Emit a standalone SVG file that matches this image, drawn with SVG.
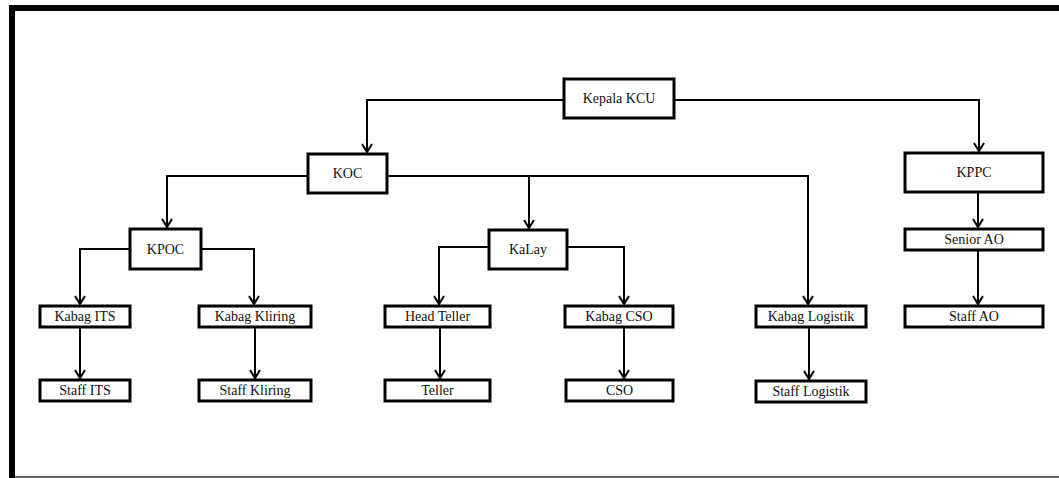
<svg xmlns="http://www.w3.org/2000/svg" width="1059" height="478" viewBox="0 0 1059 478">
<style>
.box{fill:#fff;stroke:#000;stroke-width:3}
.lbl{font-family:"Liberation Serif","Times New Roman",serif;font-size:14px;fill:#111;text-anchor:middle}
.con{fill:none;stroke:#000;stroke-width:2;marker-end:url(#arr)}
</style>
<defs>
<marker id="arr" viewBox="0 0 10 12" refX="9" refY="6" markerWidth="10" markerHeight="12" markerUnits="userSpaceOnUse" orient="auto" overflow="visible">
<path d="M1,1 L9,6 L1,11" fill="none" stroke="#000" stroke-width="2"/>
</marker>
</defs>
<rect x="0" y="0" width="1059" height="478" fill="#fff"/>
<g id="frame">
<rect x="9" y="5" width="1050" height="6" fill="#000"/>
<rect x="9" y="5" width="6" height="473" fill="#000"/>
<rect x="15" y="476" width="1044" height="2" fill="#666"/>
</g>
<g id="connectors">
<path class="con" d="M564,100 H367 V152"/>
<path class="con" d="M674,100 H979 V151"/>
<path class="con" d="M308,176 H167 V227"/>
<path class="con" d="M387,176 H808 V304"/>
<path class="con" d="M529,176 V228"/>
<path class="con" d="M130,249 H80 V304"/>
<path class="con" d="M201,249 H254 V304"/>
<path class="con" d="M80,327 V378"/>
<path class="con" d="M255,327 V378"/>
<path class="con" d="M489,247 H439 V304"/>
<path class="con" d="M567,247 H624 V304"/>
<path class="con" d="M440,327 V378"/>
<path class="con" d="M624,327 V378"/>
<path class="con" d="M809,327 V379"/>
<path class="con" d="M978,192 V227"/>
<path class="con" d="M978,250 V304"/>
</g>
<g id="kepala-kcu"><rect class="box" x="564" y="79" width="110" height="39"/><text class="lbl" x="619" y="103">Kepala KCU</text></g>
<g id="koc"><rect class="box" x="308" y="154" width="79" height="39"/><text class="lbl" x="347.5" y="178">KOC</text></g>
<g id="kppc"><rect class="box" x="905" y="153" width="138" height="39"/><text class="lbl" x="974" y="177">KPPC</text></g>
<g id="kpoc"><rect class="box" x="130" y="229" width="71" height="40"/><text class="lbl" x="165.5" y="254">KPOC</text></g>
<g id="kalay"><rect class="box" x="489" y="230" width="78" height="39"/><text class="lbl" x="528" y="254">KaLay</text></g>
<g id="kabag-its"><rect class="box" x="40" y="306" width="90" height="21"/><text class="lbl" x="85" y="321">Kabag ITS</text></g>
<g id="kabag-kliring"><rect class="box" x="199" y="306" width="112" height="21"/><text class="lbl" x="255" y="321">Kabag Kliring</text></g>
<g id="head-teller"><rect class="box" x="385" y="306" width="105" height="21"/><text class="lbl" x="437.5" y="321">Head Teller</text></g>
<g id="kabag-cso"><rect class="box" x="565" y="306" width="108" height="21"/><text class="lbl" x="619" y="321">Kabag CSO</text></g>
<g id="kabag-logistik"><rect class="box" x="756" y="306" width="110" height="21"/><text class="lbl" x="811" y="321">Kabag Logistik</text></g>
<g id="senior-ao"><rect class="box" x="905" y="229" width="138" height="21"/><text class="lbl" x="974" y="244">Senior AO</text></g>
<g id="staff-ao"><rect class="box" x="905" y="306" width="138" height="21"/><text class="lbl" x="974" y="321">Staff AO</text></g>
<g id="staff-its"><rect class="box" x="40" y="380" width="90" height="21"/><text class="lbl" x="85" y="395">Staff ITS</text></g>
<g id="staff-kliring"><rect class="box" x="199" y="380" width="112" height="21"/><text class="lbl" x="255" y="395">Staff Kliring</text></g>
<g id="teller"><rect class="box" x="385" y="380" width="105" height="21"/><text class="lbl" x="437.5" y="395">Teller</text></g>
<g id="cso"><rect class="box" x="566" y="380" width="107" height="21"/><text class="lbl" x="619.5" y="395">CSO</text></g>
<g id="staff-logistik"><rect class="box" x="756" y="381" width="110" height="21"/><text class="lbl" x="811" y="396">Staff Logistik</text></g>
</svg>
